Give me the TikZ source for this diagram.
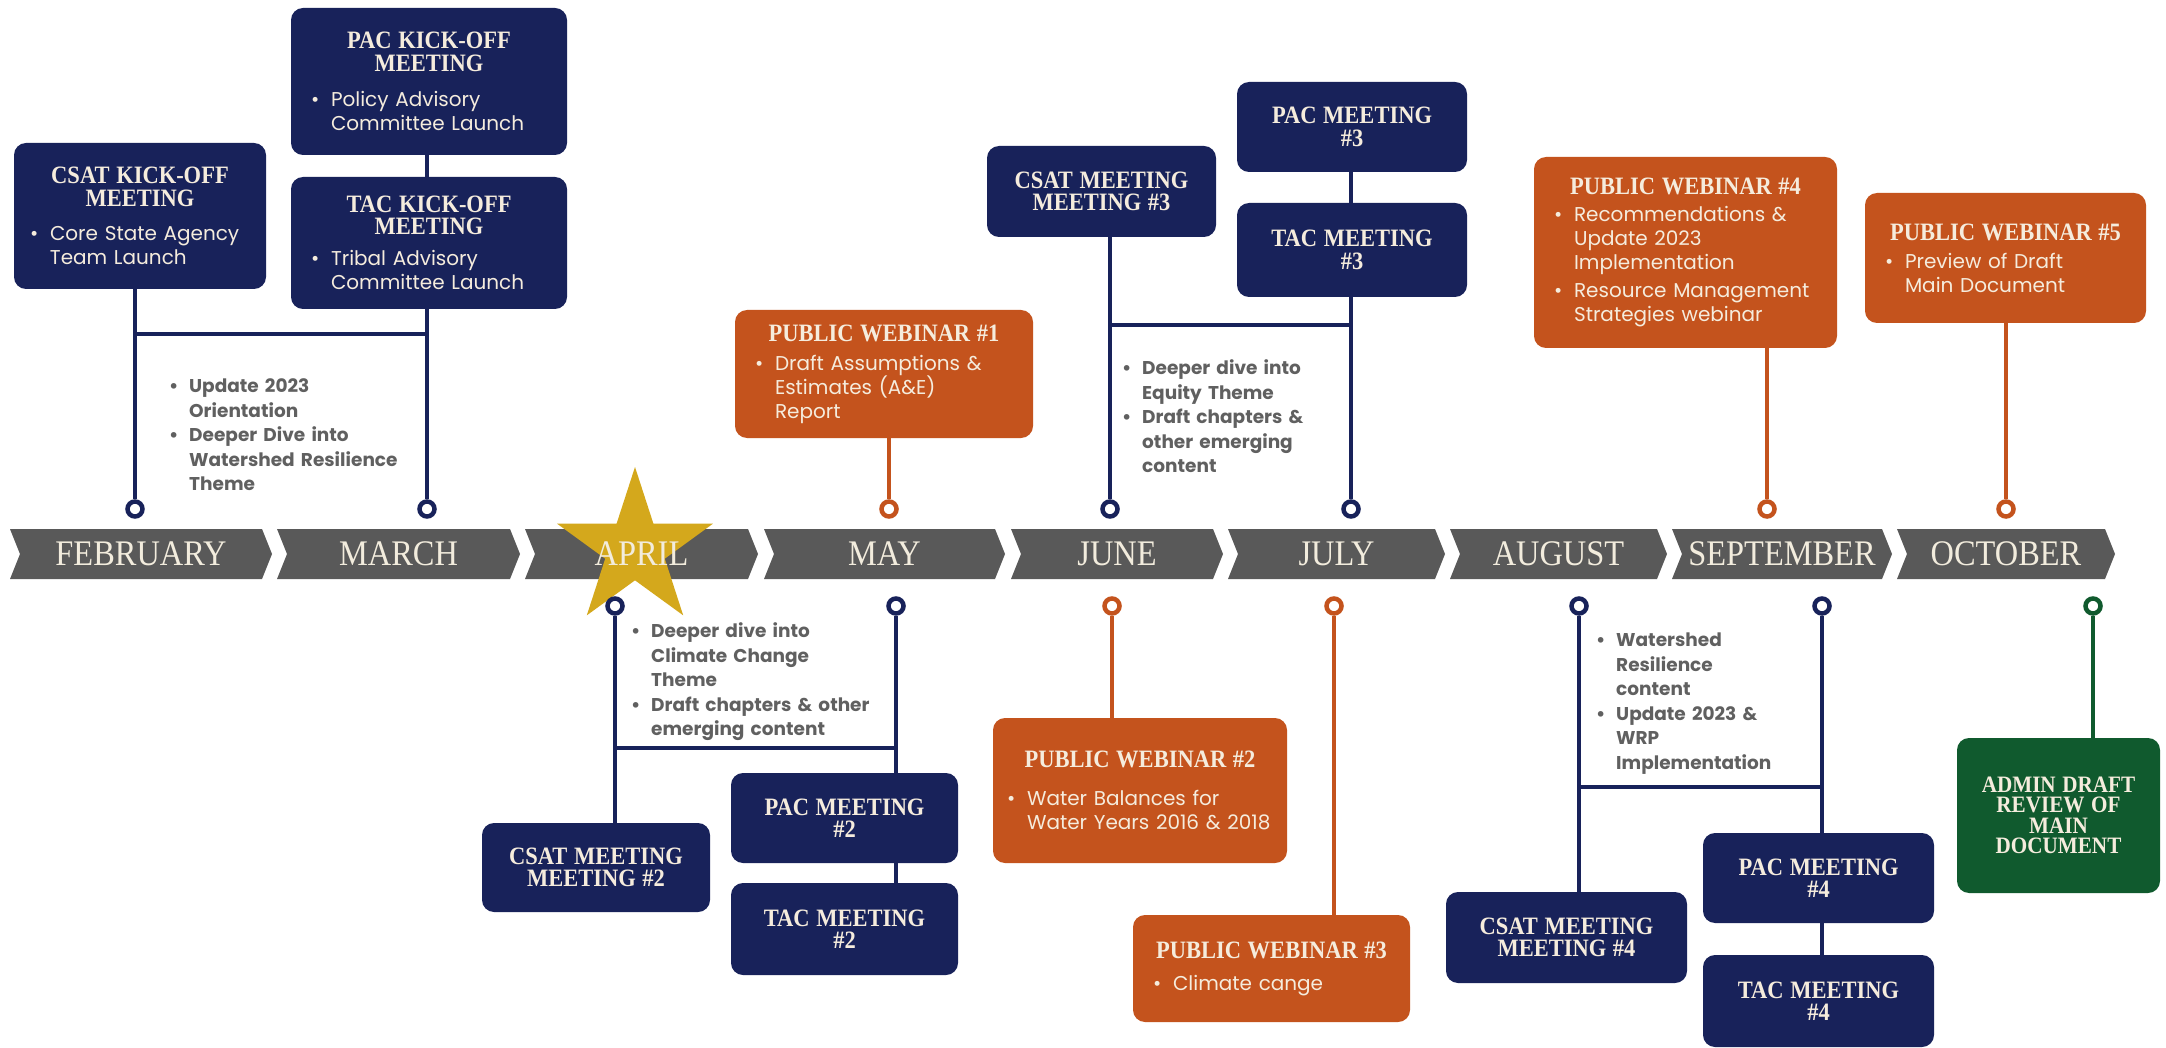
\documentclass[tikz,border=0pt]{standalone}
\usepackage{fontspec}
\setmainfont{Liberation Serif}
\newfontfamily\headfont[FakeStretch=0.9]{Liberation Serif}
\newfontfamily\bodyfont{Poppins}
\usetikzlibrary{shapes.geometric}

\definecolor{navy}{HTML}{18225A}
\definecolor{rust}{HTML}{C4531D}
\definecolor{forest}{HTML}{105A2E}
\definecolor{gold}{HTML}{D4A81C}
\definecolor{chevgray}{HTML}{595959}
\definecolor{notegray}{HTML}{606060}
\definecolor{boxtext}{HTML}{F5ECDD}
\definecolor{monthcream}{HTML}{F2ECDD}

\newcommand{\ttl}[2][0pt]{{\centering\headfont\bfseries\fontsize{25}{22.5}\selectfont #2\par}\vspace{#1}}
\newcommand{\bitem}[1]{\par{\let\\\newline\noindent\hangindent=20pt\hangafter=1\hbox to 20pt{\textbullet\hfil}#1\par}}

\begin{document}
\begin{tikzpicture}[x=1pt,y=-1pt,
  evt/.style={rounded corners=12pt, inner xsep=20pt, inner ysep=4pt, text=boxtext,
    font=\bodyfont\fontsize{20}{24}\selectfont},
  navybox/.style={evt, fill=navy},
  orangebox/.style={evt, fill=rust},
  greenbox/.style={evt, fill=forest},
  boxsize/.style n args={3}{minimum width=#1pt, minimum height=#2pt, text width=#3pt},
  note/.style={anchor=north west, inner sep=0pt, text width=300pt, text=notegray,
    font=\bodyfont\bfseries\fontsize{18.5}{24.5}\selectfont},
  stem/.style={line width=4pt},
  ring/.style={circle, draw=#1, line width=4.5pt, fill=white, minimum size=15pt, inner sep=0pt},
  month/.style={text=monthcream, font=\headfont\fontsize{36}{36}\selectfont}]

\fill[white] (0,0) rectangle (2166,1048);
\useasboundingbox (0,0) rectangle (2166,1048);

% month band
\foreach \a/\b in {10/272,277/520,525/758,764/1005,1011/1223,1228/1445,1450/1667,1672/1892,1897/2115}
  \fill[chevgray] (\a,529) -- (\b-10,529) -- (\b,554) -- (\b-10,579) -- (\a,579) -- (\a+10,554) -- cycle;

\node[star, star points=5, star point ratio=2.618, fill=gold, minimum size=164pt, inner sep=0pt] (aprstar) at (635,549) {};

\foreach \a/\b/\m/\n in {10/272/FEBRUARY/feb,277/520/MARCH/mar,525/758/APRIL/apr,764/1005/MAY/may,1011/1223/JUNE/jun,1228/1445/JULY/jul,1450/1667/AUGUST/aug,1672/1892/SEPTEMBER/sep,1897/2115/OCTOBER/oct}
  \node[month] (\n) at ({(\a+\b)/2},554) {\m};

% markers
\node[ring=navy] (febT) at (135,509) {};
\node[ring=navy] (marT) at (427,509) {};
\node[ring=rust] (mayT) at (889,509) {};
\node[ring=navy] (junT) at (1110,509) {};
\node[ring=navy] (julT) at (1351,509) {};
\node[ring=rust] (sepT) at (1767,509) {};
\node[ring=rust] (octT) at (2006,509) {};
\node[ring=navy] (aprB) at (615,606) {};
\node[ring=navy] (mayB) at (896,606) {};
\node[ring=rust] (junB) at (1112,606) {};
\node[ring=rust] (julB) at (1334,606) {};
\node[ring=navy] (augB) at (1579,606) {};
\node[ring=navy] (sepB) at (1822,606) {};
\node[ring=forest] (octB) at (2093,606) {};

% above the band
\node[navybox, inner xsep=16pt, boxsize={252}{146}{220}] (csatko) at (140,216) {\ttl[10pt]{CSAT KICK-OFF\\MEETING}\bitem{Core State Agency\\Team Launch}};
\node[navybox, boxsize={276}{147}{236}] (packo) at (429,81.5) {\ttl[11pt]{PAC KICK-OFF\\MEETING}\bitem{Policy Advisory\\Committee Launch}};
\node[navybox, boxsize={276}{132}{236}] (tacko) at (429,243) {\ttl[7pt]{TAC KICK-OFF\\MEETING}\bitem{Tribal Advisory\\Committee Launch}};
\node[note] (febnote) at (169,368) {\bitem{Update 2023\\Orientation}\bitem{Deeper Dive into\\Watershed Resilience\\Theme}};

\node[orangebox, boxsize={298}{128}{258}] (pw1) at (884,374) {\ttl[5pt]{PUBLIC WEBINAR \#1}\bitem{Draft Assumptions \&\\Estimates (A\&E)\\Report}};

\node[navybox, boxsize={229}{91}{189}] (csat3) at (1101.5,191.5) {\ttl{CSAT MEETING\\MEETING \#3}};
\node[navybox, boxsize={230}{90}{190}] (pac3) at (1352,127) {\ttl{PAC MEETING\\\#3}};
\node[navybox, boxsize={230}{94}{190}] (tac3) at (1352,250) {\ttl{TAC MEETING\\\#3}};
\node[note] (junnote) at (1122,350) {\bitem{Deeper dive into\\Equity Theme}\bitem{Draft chapters \&\\other emerging\\content}};

\node[orangebox, boxsize={303}{191}{263}] (pw4) at (1685.5,252.5) {\ttl[3pt]{PUBLIC WEBINAR \#4}\bitem{Recommendations \&\\Update 2023\\Implementation}\vspace{4pt}\bitem{Resource Management\\Strategies webinar}};
\node[orangebox, boxsize={281}{130}{241}] (pw5) at (2005.5,258) {\ttl[4pt]{PUBLIC WEBINAR \#5}\bitem{Preview of Draft\\Main Document}};

% below the band
\node[note] (aprnote) at (631,613) {\bitem{Deeper dive into\\Climate Change\\Theme}\bitem{Draft chapters \& other\\emerging content}};
\node[navybox, boxsize={228}{89}{188}] (csat2) at (596,867.5) {\ttl{CSAT MEETING\\MEETING \#2}};
\node[navybox, boxsize={227}{90}{187}] (pac2) at (844.5,818) {\ttl{PAC MEETING\\\#2}};
\node[navybox, boxsize={227}{92}{187}] (tac2) at (844.5,929) {\ttl{TAC MEETING\\\#2}};

\node[orangebox, inner xsep=14pt, boxsize={294}{145}{266}] (pw2) at (1140,790.5) {\ttl[14pt]{PUBLIC WEBINAR \#2}\bitem{Water Balances for\\\mbox{Water Years 2016 \& 2018}}};
\node[orangebox, boxsize={277}{107}{237}] (pw3) at (1271.5,968.5) {\ttl[8pt]{PUBLIC WEBINAR \#3}\bitem{Climate cange}};

\node[note] (augnote) at (1596,622) {\bitem{Watershed\\Resilience\\content}\bitem{Update 2023 \&\\WRP\\Implementation}};
\node[navybox, boxsize={241}{91}{201}] (csat4) at (1566.5,937.5) {\ttl{CSAT MEETING\\MEETING \#4}};
\node[navybox, boxsize={231}{90}{191}] (pac4) at (1818.5,878) {\ttl{PAC MEETING\\\#4}};
\node[navybox, boxsize={231}{92}{191}] (tac4) at (1818.5,1001) {\ttl{TAC MEETING\\\#4}};

\node[greenbox, inner xsep=12pt, boxsize={203}{155}{179}] (admin) at (2058.5,815.5) {{\centering\headfont\bfseries\fontsize{23.5}{20.5}\selectfont ADMIN DRAFT\\REVIEW OF\\MAIN\\DOCUMENT\par}};

% stems and ties
\coordinate (febJ) at (135,334);
\coordinate (junJ) at (1110,325);
\coordinate (aprJ) at (615,748);
\coordinate (augJ) at (1579,787);
\draw[stem,navy] (csatko.south -| febT) -- (febT.north);
\draw[stem,navy] (packo.south -| marT) -- (tacko.north -| marT);
\draw[stem,navy] (tacko.south -| marT) -- (marT.north);
\draw[stem,navy] (febJ) -- (febJ -| marT);
\draw[stem,rust] (pw1.south -| mayT) -- (mayT.north);
\draw[stem,navy] (csat3.south -| junT) -- (junT.north);
\draw[stem,navy] (pac3.south -| julT) -- (tac3.north -| julT);
\draw[stem,navy] (tac3.south -| julT) -- (julT.north);
\draw[stem,navy] (junJ) -- (junJ -| julT);
\draw[stem,rust] (pw4.south -| sepT) -- (sepT.north);
\draw[stem,rust] (pw5.south -| octT) -- (octT.north);
\draw[stem,navy] (aprB.south) -- (aprB |- csat2.north);
\draw[stem,navy] (mayB.south) -- (mayB |- pac2.north);
\draw[stem,navy] (pac2.south -| mayB) -- (tac2.north -| mayB);
\draw[stem,navy] (aprJ) -- (aprJ -| mayB);
\draw[stem,rust] (junB.south) -- (junB |- pw2.north);
\draw[stem,rust] (julB.south) -- (julB |- pw3.north);
\draw[stem,navy] (augB.south) -- (augB |- csat4.north);
\draw[stem,navy] (sepB.south) -- (sepB |- pac4.north);
\draw[stem,navy] (pac4.south -| sepB) -- (tac4.north -| sepB);
\draw[stem,navy] (augJ) -- (augJ -| sepB);
\draw[stem,forest] (octB.south) -- (octB |- admin.north);
\end{tikzpicture}
\end{document}
